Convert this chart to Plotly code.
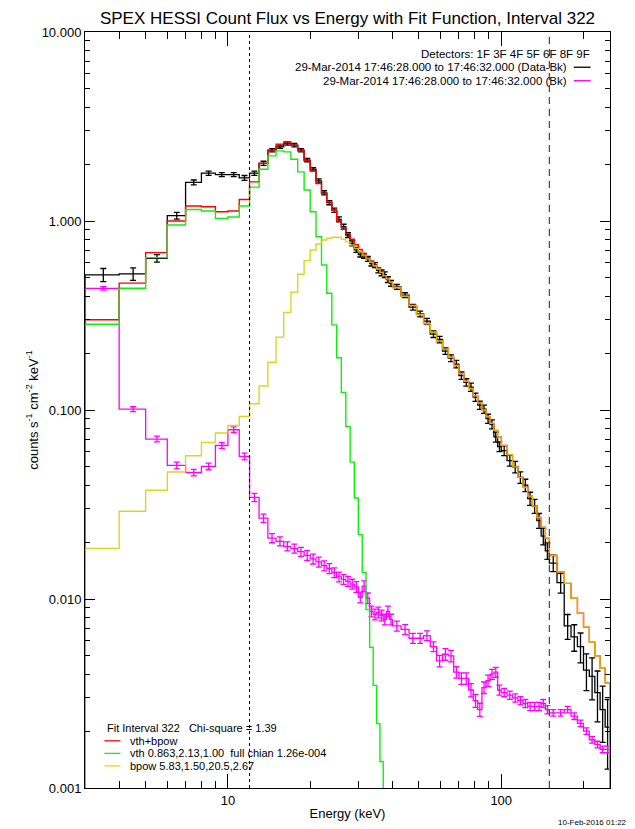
import math
import plotly.graph_objects as go

# Energy bin edges (keV)
energy_edges = [3, 4, 5, 6, 7, 8, 9, 10, 11, 12, 13, 14, 15, 16, 17, 18, 19, 20,
                21, 22, 23, 24, 25, 26, 27, 28, 29, 30, 31, 32, 33, 34, 35, 36, 37,
                38, 39, 40, 43, 46, 49, 52, 55, 58, 61, 64, 67, 70, 73, 76, 79, 82,
                85, 88, 91, 94, 97, 100, 105, 110, 115, 120, 125, 130, 135, 140, 145,
                150, 160, 170, 180, 190, 200, 210, 220, 230, 240, 250]

# Count flux, data minus background (counts s^-1 cm^-2 keV^-1)
data_flux = [0.519, 0.525, 0.635, 1.067, 1.60, 1.79, 1.76, 1.76, 1.69, 1.79,
             2.02, 2.37, 2.47, 2.57, 2.52, 2.37, 2.10, 1.88, 1.63, 1.41,
             1.25, 1.14, 1.02, 0.933, 0.843, 0.762, 0.703, 0.665, 0.655, 0.630,
             0.596, 0.585, 0.548, 0.532, 0.520, 0.490, 0.468, 0.448, 0.405, 0.350,
             0.322, 0.295, 0.252, 0.236, 0.205, 0.188, 0.175, 0.152, 0.140, 0.132,
             0.117, 0.106, 0.101, 0.090, 0.084, 0.072, 0.064, 0.061, 0.054, 0.050,
             0.044, 0.040, 0.034, 0.031, 0.026, 0.0215, 0.0180, 0.0155, 0.0122, 0.0072,
             0.0063, 0.0056, 0.0042, 0.0039, 0.0032, 0.0026, 0.0021]
data_rel_err = [0.08, 0.075, 0.045, 0.04, 0.03, 0.025, 0.025, 0.025, 0.03, 0.025,
                0.025, 0.02, 0.02, 0.02, 0.02, 0.02, 0.02, 0.02, 0.025, 0.025,
                0.025, 0.025, 0.03, 0.03, 0.03, 0.03, 0.03, 0.03, 0.03, 0.03,
                0.03, 0.03, 0.03, 0.035, 0.035, 0.035, 0.035, 0.03, 0.03, 0.035,
                0.035, 0.035, 0.04, 0.04, 0.04, 0.04, 0.045, 0.045, 0.045, 0.05,
                0.05, 0.05, 0.05, 0.055, 0.055, 0.06, 0.06, 0.06, 0.065, 0.07,
                0.07, 0.075, 0.08, 0.085, 0.09, 0.10, 0.10, 0.10, 0.12, 0.15,
                0.16, 0.18, 0.22, 0.25, 0.30, 0.33, 0.40]

# Background count flux
bk_flux = [0.44, 0.101, 0.0702, 0.0509, 0.0467, 0.0503, 0.0649, 0.0786, 0.0568, 0.0345,
           0.0268, 0.0210, 0.0202, 0.0190, 0.0185, 0.0178, 0.0170, 0.0163, 0.0157, 0.0150,
           0.0145, 0.0138, 0.0131, 0.0127, 0.0124, 0.0120, 0.0116, 0.0102, 0.0117, 0.0101,
           0.0086, 0.0083, 0.0085, 0.0082, 0.0078, 0.0086, 0.0078, 0.0072, 0.0069, 0.0062,
           0.0062, 0.0064, 0.0056, 0.0047, 0.0051, 0.0050, 0.0041, 0.0038, 0.0038, 0.0033,
           0.0029, 0.0026, 0.0034, 0.0037, 0.0040, 0.0041, 0.0033, 0.0032, 0.0031, 0.0030,
           0.0029, 0.0028, 0.0027, 0.0027, 0.0027, 0.0028, 0.0026, 0.0025, 0.0025, 0.0026,
           0.0024, 0.0022, 0.0020, 0.0018, 0.0017, 0.0016, 0.0016]
bk_rel_err = [0.02, 0.03, 0.035, 0.04, 0.04, 0.04, 0.035, 0.035, 0.04, 0.05,
              0.05, 0.055, 0.055, 0.055, 0.055, 0.055, 0.06, 0.06, 0.06, 0.06,
              0.06, 0.06, 0.06, 0.06, 0.06, 0.06, 0.065, 0.065, 0.065, 0.065,
              0.065, 0.065, 0.065, 0.065, 0.065, 0.065, 0.065, 0.06, 0.06, 0.06,
              0.06, 0.06, 0.06, 0.07, 0.07, 0.07, 0.07, 0.07, 0.07, 0.08,
              0.08, 0.08, 0.07, 0.07, 0.06, 0.06, 0.06, 0.05, 0.05, 0.05,
              0.05, 0.05, 0.05, 0.05, 0.05, 0.05, 0.05, 0.04, 0.04, 0.04,
              0.04, 0.04, 0.04, 0.04, 0.04, 0.04, 0.04]

# Fit: total (vth+bpow), thermal component, broken power law component
fit_total = [0.300, 0.469, 0.680, 1.00, 1.20, 1.19, 1.12, 1.13, 1.30, 1.61,
             2.02, 2.35, 2.55, 2.62, 2.52, 2.35, 2.08, 1.84, 1.58, 1.40,
             1.26, 1.14, 1.01, 0.924, 0.857, 0.800, 0.750, 0.707, 0.671, 0.639,
             0.611, 0.583, 0.559, 0.536, 0.514, 0.494, 0.475, 0.445, 0.400, 0.357,
             0.320, 0.287, 0.258, 0.232, 0.210, 0.190, 0.172, 0.156, 0.142, 0.130,
             0.119, 0.109, 0.100, 0.092, 0.085, 0.078, 0.072, 0.065, 0.058, 0.050,
             0.044, 0.039, 0.035, 0.031, 0.027, 0.024, 0.021, 0.0170, 0.0139, 0.0121,
             0.0101, 0.0084, 0.0071, 0.0059, 0.0050, 0.0043, 0.0036]
fit_vth = [0.284, 0.441, 0.640, 0.953, 1.15, 1.13, 1.03, 1.05, 1.20, 1.51,
           1.88, 2.21, 2.35, 2.32, 2.12, 1.82, 1.46, 1.12, 0.826, 0.585,
           0.415, 0.282, 0.189, 0.124, 0.0818, 0.0530, 0.0342, 0.0219, 0.0138, 0.00879,
           0.00556, 0.00349, 0.00219, 0.00138, 0.00085]
fit_bpow = [0.0185, 0.0291, 0.0376, 0.0470, 0.0573, 0.0673, 0.0755, 0.0828, 0.0924, 0.108,
            0.134, 0.179, 0.243, 0.328, 0.420, 0.523, 0.617, 0.703, 0.756, 0.794,
            0.810, 0.820, 0.820, 0.800, 0.775, 0.745, 0.715, 0.685, 0.657, 0.630,
            0.605, 0.580, 0.557, 0.535, 0.514, 0.494, 0.475, 0.445, 0.400, 0.357,
            0.320, 0.287, 0.258, 0.232, 0.210, 0.190, 0.172, 0.156, 0.142, 0.130,
            0.119, 0.109, 0.100, 0.092, 0.085, 0.078, 0.072, 0.065, 0.058, 0.050,
            0.044, 0.039, 0.035, 0.031, 0.027, 0.024, 0.021, 0.0170, 0.0139, 0.0121,
            0.0101, 0.0084, 0.0071, 0.0059, 0.0050, 0.0043, 0.0036]

fit_interval = [12, 150]   # keV

detectors = "Detectors: 1F 3F 4F 5F 6F 8F 9F"
time_range = "29-Mar-2014 17:46:28.000 to 17:46:32.000"
fit_notes = ["Fit Interval 322   Chi-square = 1.39",
             "vth+bpow",
             "vth 0.863,2.13,1.00  full chian 1.26e-004",
             "bpow 5.83,1.50,20.5,2.67"]

Y_MIN, Y_MAX = 0.001, 10.0
X_MIN, X_MAX = 3.0, 250.0
Y_FLOOR = 1e-5  # histograms close down to below the plotted range

BLACK = "#000000"
MAGENTA = "#FF00FF"
RED = "#FF0000"
GREEN = "#10EE10"
YELLOW = "#DCCC00"
YELLOW_ALPHA = 0.85
FONT = "Liberation Sans, Arial, Helvetica, sans-serif"


def histogram_xy(edges, values):
    n = len(values)
    xs = [edges[0]] + list(edges[:n]) + [edges[n], edges[n]]
    ys = [Y_FLOOR] + list(values) + [values[-1], Y_FLOOR]
    return xs, ys


def bin_centers(edges, n):
    return [(edges[i] + edges[i + 1]) / 2 for i in range(n)]


fig = go.Figure()

# Data - background histogram with error bars
hx, hy = histogram_xy(energy_edges, data_flux)
fig.add_trace(go.Scatter(x=hx, y=hy, mode="lines", line_shape="hv",
                         line=dict(color=BLACK, width=1.3)))
fig.add_trace(go.Scatter(
    x=bin_centers(energy_edges, len(data_flux)), y=data_flux, mode="markers",
    marker=dict(size=1, color=BLACK, opacity=0),
    error_y=dict(type="data", array=[v * r for v, r in zip(data_flux, data_rel_err)],
                 color=BLACK, thickness=1.3, width=3)))

# Background histogram with error bars
hx, hy = histogram_xy(energy_edges, bk_flux)
fig.add_trace(go.Scatter(x=hx, y=hy, mode="lines", line_shape="hv",
                         line=dict(color=MAGENTA, width=1.3)))
fig.add_trace(go.Scatter(
    x=bin_centers(energy_edges, len(bk_flux)), y=bk_flux, mode="markers",
    marker=dict(size=1, color=MAGENTA, opacity=0),
    error_y=dict(type="data", array=[v * r for v, r in zip(bk_flux, bk_rel_err)],
                 color=MAGENTA, thickness=1.3, width=3)))

# Fit function and its components
for values, color, opacity in [(fit_total, RED, 1.0),
                               (fit_vth, GREEN, 1.0),
                               (fit_bpow, YELLOW, YELLOW_ALPHA)]:
    hx, hy = histogram_xy(energy_edges, values)
    fig.add_trace(go.Scatter(x=hx, y=hy, mode="lines", line_shape="hv",
                             opacity=opacity, line=dict(color=color, width=1.4)))

# Fit interval markers
fig.add_shape(type="line", xref="x", yref="paper", x0=fit_interval[0], x1=fit_interval[0],
              y0=0, y1=1, line=dict(color=BLACK, width=1, dash="dot"))
fig.add_shape(type="line", xref="x", yref="paper", x0=fit_interval[1], x1=fit_interval[1],
              y0=0, y1=1, line=dict(color="#444444", width=1.2, dash="7px,5px"))

# Upper-right legend block
LEGEND_FONT_TOP = dict(size=11.5, family=FONT)
fig.add_annotation(text=detectors, xref="paper", yref="paper", x=0.965, y=0.9712,
                   xanchor="right", yanchor="middle", showarrow=False,
                   font=LEGEND_FONT_TOP)
for label, color, yy in [(time_range + " (Data-Bk)", BLACK, 0.9534),
                         (time_range + " (Bk)", MAGENTA, 0.9356)]:
    fig.add_annotation(text=label, xref="paper", yref="paper", x=0.921, y=yy,
                       xanchor="right", yanchor="middle", showarrow=False,
                       font=LEGEND_FONT_TOP)
    fig.add_shape(type="line", xref="paper", yref="paper", x0=0.931, x1=0.963,
                  y0=yy, y1=yy, line=dict(color=color, width=1.3))

# Lower-left fit summary
LEGEND_FONT_BOTTOM = dict(size=11, family=FONT)
fig.add_annotation(text=fit_notes[0], xref="paper", yref="paper", x=0.0375, y=0.0790,
                   xanchor="left", yanchor="middle", showarrow=False,
                   font=LEGEND_FONT_BOTTOM)
for label, color, yy, alpha in [(fit_notes[1], RED, 0.0624, 1.0),
                                (fit_notes[2], GREEN, 0.0458, 1.0),
                                (fit_notes[3], YELLOW, 0.0292, YELLOW_ALPHA)]:
    fig.add_annotation(text=label, xref="paper", yref="paper", x=0.0827, y=yy,
                       xanchor="left", yanchor="middle", showarrow=False,
                       font=LEGEND_FONT_BOTTOM)
    fig.add_shape(type="line", xref="paper", yref="paper", x0=0.037, x1=0.0675,
                  y0=yy, y1=yy, line=dict(color=color, width=1.3), opacity=alpha)

# Creation stamp
fig.add_annotation(text="10-Feb-2016 01:22", xref="paper", yref="paper", x=1.037, y=-0.0452,
                   xanchor="right", yanchor="middle", showarrow=False,
                   font=dict(size=8, family=FONT))

axis_common = dict(type="log", showgrid=False, zeroline=False, showline=True,
                   linecolor=BLACK, linewidth=1, mirror="ticks", ticks="inside",
                   tickcolor=BLACK, tickwidth=1, tickmode="linear", tick0=0, dtick=1,
                   automargin=False,
                   tickfont=dict(size=13, family=FONT, color=BLACK))

fig.update_xaxes(**axis_common, range=[math.log10(X_MIN), math.log10(X_MAX)], ticklen=14,
                 minor=dict(ticks="inside", ticklen=7, dtick="D1", tickcolor=BLACK, tickwidth=1),
                 title=dict(text="Energy (keV)", font=dict(size=13, family=FONT), standoff=2))
fig.update_yaxes(**axis_common, range=[math.log10(Y_MIN), math.log10(Y_MAX)], ticklen=10,
                 tickformat=".3f",
                 minor=dict(ticks="inside", ticklen=5, dtick="D1", tickcolor=BLACK, tickwidth=1),
                 title=dict(text="counts s<sup>-1</sup> cm<sup>-2</sup> keV<sup>-1</sup>",
                            font=dict(size=13, family=FONT), standoff=0))

fig.update_layout(
    width=635, height=829,
    margin=dict(l=84.5, r=24.5, t=32, b=40.5),
    plot_bgcolor="white", paper_bgcolor="white",
    showlegend=False,
    font=dict(family=FONT, size=13, color=BLACK),
    title=dict(text="SPEX HESSI Count Flux vs Energy with Fit Function, Interval 322",
               x=0.5, xref="paper", xanchor="center", y=1 - 18 / 829, yref="container",
               yanchor="middle", font=dict(size=17, family=FONT, color=BLACK)),
)

fig.write_html("out.html")
